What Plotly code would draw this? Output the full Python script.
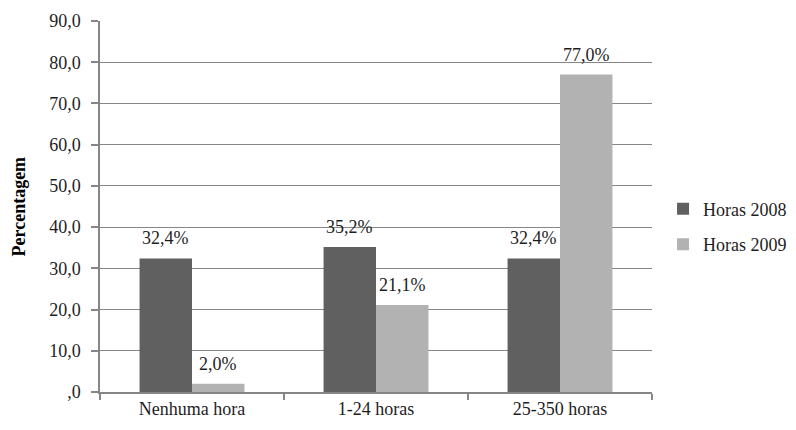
import plotly.graph_objects as go

categories = ["Nenhuma hora", "1-24 horas", "25-350 horas"]
horas_2008 = [32.4, 35.2, 32.4]
horas_2009 = [2.0, 21.1, 77.0]
labels_2008 = ["32,4%", "35,2%", "32,4%"]
labels_2009 = ["2,0%", "21,1%", "77,0%"]
y_tick_vals = [0, 10, 20, 30, 40, 50, 60, 70, 80, 90]
y_tick_labels = [",0", "10,0", "20,0", "30,0", "40,0", "50,0", "60,0", "70,0", "80,0", "90,0"]

FONT = "Liberation Serif"
AXIS = "#868686"
TXT = "#1e1e1e"
FS = 18

W, H = 788, 422
ML, MR, MT, MB = 92, 144, 13, 38
plot_w = W - ML - MR
BARGAP = 0.43

fig = go.Figure()
fig.add_trace(go.Bar(name="Horas 2008", x=categories, y=horas_2008,
                     marker=dict(color="#606060", line=dict(width=0)),
                     legendgroup="a"))
fig.add_trace(go.Bar(name="Horas 2009", x=categories, y=horas_2009,
                     marker=dict(color="#b2b2b2", line=dict(width=0)),
                     legendgroup="b"))

cat_px = plot_w / len(categories)
bar_px = cat_px * (1 - BARGAP) / 2
for labels, vals, sign in ((labels_2008, horas_2008, -1), (labels_2009, horas_2009, 1)):
    for c, v, t in zip(categories, vals, labels):
        fig.add_annotation(x=c, y=v, text=t, showarrow=False,
                           xanchor="center", yanchor="bottom",
                           xshift=sign * bar_px / 2, yshift=8,
                           font=dict(family=FONT, size=FS, color=TXT))

fig.add_annotation(xref="paper", yref="paper", x=-(100 - 18) / plot_w, y=0.5,
                   text="<b>Percentagem</b>", textangle=-90, showarrow=False,
                   xanchor="center", yanchor="middle",
                   font=dict(family=FONT, size=FS, color="#000000"))

fig.update_layout(
    width=W, height=H,
    margin=dict(l=ML, r=MR, t=MT, b=MB, autoexpand=False),
    paper_bgcolor="white", plot_bgcolor="white",
    barmode="group", bargap=BARGAP, bargroupgap=0,
    font=dict(family=FONT, size=FS, color=TXT),
    legend=dict(x=1.02, y=0.446, xanchor="left", yanchor="middle",
                font=dict(family=FONT, size=FS, color=TXT),
                traceorder="grouped", tracegroupgap=9,
                bgcolor="rgba(0,0,0,0)"),
    showlegend=True,
)
fig.update_xaxes(showline=True, linecolor=AXIS, linewidth=1.5, automargin=False,
                 ticks="outside", tickson="boundaries", ticklen=6,
                 tickcolor=AXIS, tickwidth=1.5, showgrid=False,
                 tickfont=dict(family=FONT, size=FS, color=TXT))
fig.update_yaxes(range=[0, 90], tickvals=y_tick_vals, ticktext=y_tick_labels,
                 automargin=False, ticklabelstandoff=7,
                 showline=True, linecolor=AXIS, linewidth=1.5,
                 ticks="outside", ticklen=7, tickcolor=AXIS, tickwidth=1.5,
                 showgrid=True, gridcolor=AXIS, gridwidth=1.2,
                 zeroline=False,
                 tickfont=dict(family=FONT, size=FS, color=TXT))

fig.write_html("out.html")
